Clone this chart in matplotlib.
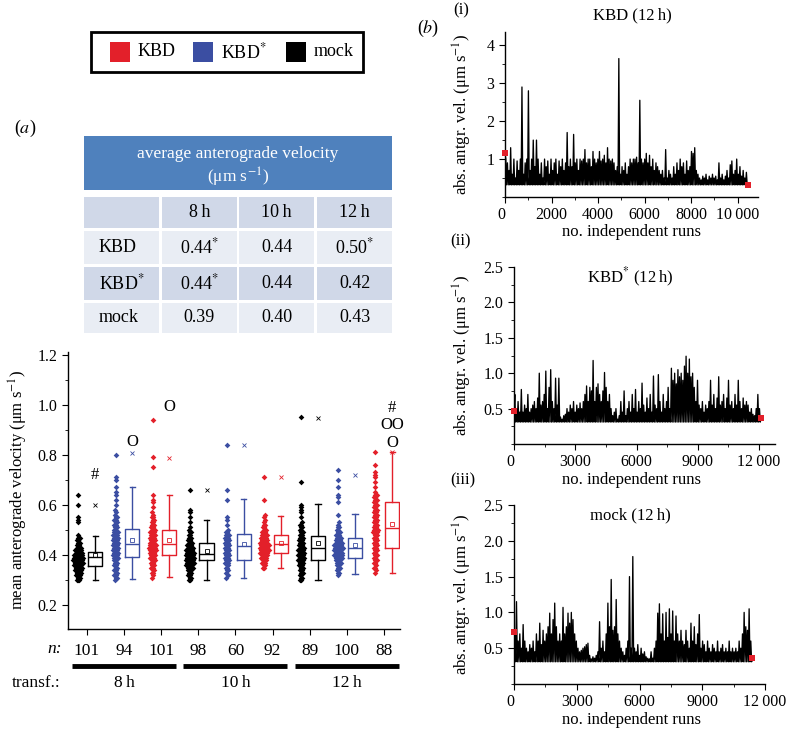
import numpy as np
import matplotlib.pyplot as plt
from matplotlib.patches import Rectangle
from matplotlib.ticker import MultipleLocator, FixedLocator, FuncFormatter

plt.rcParams['font.family'] = ['Liberation Serif', 'DejaVu Serif']
plt.rcParams['mathtext.fontset'] = 'stix'
plt.rcParams['axes.linewidth'] = 1.0

RED = '#e3202a'
BLUE = '#3b4ea2'
BLACK = '#000000'

# ---------------- data: panel (a) ----------------
hours = ['8 h', '10 h', '12 h']
strains = ['KBD', 'KBD$^{*}$', 'mock']
table_vals = [['0.44$^{*}$', '0.44', '0.50$^{*}$'],
              ['0.44$^{*}$', '0.44', '0.42'],
              ['0.39', '0.40', '0.43']]

# box order inside each time point: mock, KBD*, KBD
box_colors = [BLACK, BLUE, RED] * 3
n_labels = [101, 94, 101, 98, 60, 92, 89, 100, 88]
box_q1 = [0.356, 0.392, 0.400, 0.380, 0.380, 0.410, 0.380, 0.390, 0.430]
box_med = [0.392, 0.444, 0.444, 0.404, 0.436, 0.444, 0.430, 0.430, 0.507]
box_q3 = [0.412, 0.503, 0.500, 0.448, 0.483, 0.480, 0.476, 0.468, 0.610]
whisk_lo = [0.300, 0.305, 0.313, 0.300, 0.310, 0.350, 0.300, 0.324, 0.330]
whisk_hi = [0.475, 0.670, 0.638, 0.540, 0.623, 0.556, 0.603, 0.563, 0.810]
box_mean = [0.400, 0.460, 0.460, 0.415, 0.444, 0.450, 0.447, 0.440, 0.523]
pct99 = [0.600, 0.806, 0.786, 0.660, 0.840, 0.710, 0.948, 0.720, 0.810]

# scatter: histogram in 0.01 bins starting at scatter_lo, plus single high points
scatter_lo = [0.30, 0.30, 0.31, 0.30, 0.31, 0.35, 0.30, 0.32, 0.33]
scatter_counts = [
    [3, 3, 4, 5, 6, 6, 7, 8, 9, 9, 8, 6, 6, 5, 3, 3, 2, 2, 1],
    [1, 2, 2, 2, 2, 2, 3, 3, 3, 4, 4, 4, 5, 5, 5, 4, 5, 5, 4, 4, 3, 3, 2, 2, 2, 2, 1, 1, 1],
    [1, 1, 2, 2, 3, 3, 3, 4, 5, 5, 5, 6, 6, 6, 5, 5, 5, 5, 4, 4, 3, 3, 2, 2, 2, 1, 1],
    [2, 2, 3, 3, 4, 5, 6, 7, 7, 7, 7, 7, 6, 6, 5, 4, 3, 3, 2, 2, 1, 1],
    [1, 1, 1, 2, 2, 2, 3, 3, 3, 3, 3, 3, 4, 4, 4, 4, 4, 4, 2, 1],
    [2, 2, 3, 4, 5, 6, 7, 8, 7, 8, 7, 6, 5, 5, 4, 3, 2, 2, 1, 1, 1, 1],
    [2, 2, 2, 3, 3, 3, 4, 4, 5, 5, 5, 5, 5, 5, 4, 4, 4, 4, 3, 3, 2, 2, 2, 1],
    [1, 2, 2, 3, 3, 4, 5, 7, 8, 7, 7, 8, 7, 6, 5, 5, 4, 3, 2, 2, 1, 1],
    [1, 1, 2, 1, 2, 2, 2, 2, 2, 3, 3, 3, 3, 3, 3, 3, 4, 4, 3, 3, 3, 3, 3, 3, 3, 2, 2, 3, 2, 2, 2, 2, 1],
]
scatter_extra = [
    [0.53, 0.54, 0.55, 0.60, 0.64],
    [0.60, 0.62, 0.64, 0.65, 0.67, 0.70, 0.71, 0.80],
    [0.59, 0.61, 0.62, 0.64, 0.75, 0.79, 0.94],
    [0.53, 0.55, 0.57, 0.58, 0.66],
    [0.52, 0.54, 0.55, 0.62, 0.66, 0.84],
    [0.62, 0.71],
    [0.55, 0.57, 0.58, 0.59, 0.60, 0.69, 0.95],
    [0.56, 0.61, 0.63, 0.64, 0.67, 0.70, 0.74],
    [0.67, 0.69, 0.71, 0.72, 0.73, 0.76, 0.81],
]
sig_marks = [(1, 0.72, '#'), (2, 0.85, 'O'), (3, 0.99, 'O'),
             (9, 0.985, '#'), (9, 0.917, 'OO'), (9, 0.845, 'O')]

# ---------------- data: panel (b) ----------------
kbd_peaks = [
    1.0, 0.9, 0.7, 1.3, 0.6, 1.0, 0.5, 0.95, 0.7, 1.0, 2.9, 0.6, 0.9, 1.0, 2.8, 0.7, 1.0, 1.5, 0.8, 1.5,
    1.0, 0.6, 0.9, 0.5, 1.0, 0.8, 0.95, 0.6, 1.0, 0.7, 0.9, 1.0, 0.6, 0.95, 0.8, 1.0, 0.7, 0.9, 1.7, 0.8,
    1.0, 0.8, 1.65, 0.9, 1.0, 0.7, 1.0, 0.95, 1.0, 1.25, 0.9, 1.0, 1.0, 0.8, 1.2, 1.0, 0.9, 1.0, 1.2, 0.95,
    1.0, 1.1, 0.9, 1.3, 1.0, 0.95, 1.0, 0.9, 0.7, 0.8, 3.65, 0.6, 0.8, 0.7, 0.9, 0.6, 0.8, 1.0, 0.9, 1.0,
    1.0, 1.05, 0.9, 2.55, 1.0, 0.9, 1.0, 1.15, 0.9, 1.1, 0.8, 1.0, 0.7, 0.9, 0.8, 0.7, 0.6, 0.7, 0.5, 1.25,
    0.5, 0.7, 0.6, 0.5, 0.8, 0.6, 0.9, 0.7, 1.0, 0.8, 0.9, 0.6, 0.95, 0.7, 0.8, 1.2, 1.15, 1.3, 0.7, 0.6,
    0.5, 0.45, 0.55, 0.5, 0.6, 0.45, 0.55, 0.5, 0.6, 0.5, 0.55, 0.45, 0.9, 0.5, 0.6, 0.45, 0.55, 0.7, 0.5, 0.85,
    0.95, 0.6, 0.7, 1.0, 0.6, 0.8, 0.55, 0.7, 0.5, 0.65,
]
kbds_peaks = [
    0.7, 0.5, 0.6, 0.45,
    0.77, 0.45, 0.55, 0.5, 0.7, 0.45, 0.5, 0.55, 0.6, 0.5, 0.65, 1.0, 0.55, 0.6, 0.7, 1.03, 0.5, 0.8, 1.05, 0.6,
    0.5, 0.93, 0.55, 0.93,
    0.38, 0.35, 0.4, 0.42,
    0.5, 0.45, 0.55, 0.5, 0.6, 0.45, 0.55, 0.5, 0.58, 0.5, 0.6,
    0.7, 0.82, 0.6, 0.8, 0.75, 1.18, 0.6, 0.8, 0.85, 0.7, 0.6, 0.75, 1.01, 0.8, 0.6, 0.7,
    0.5, 0.4, 0.45, 0.5, 0.35, 0.4,
    0.6, 0.45, 0.75, 0.4, 0.5, 0.6, 0.45, 0.7, 0.5, 0.77, 0.45, 0.6, 0.5, 0.86, 0.55, 0.45, 0.65, 0.5, 0.7,
    0.45, 0.96, 0.55, 0.5, 0.98, 0.6, 0.45, 0.7, 0.5, 0.6, 0.8, 0.5,
    1.07, 0.9, 1.0, 0.85, 1.05, 0.95, 1.0, 0.9, 1.1, 1.24, 1.0, 1.2, 0.95, 1.0, 0.8,
    0.6, 0.9, 0.55, 0.5, 0.6, 0.45, 0.55, 0.5,
    0.6, 0.9, 0.55, 0.7, 0.5, 0.65, 0.95, 0.55, 0.6, 0.7, 0.5, 0.65, 0.9, 0.55, 0.6, 0.5, 0.7, 0.55, 0.9, 0.6,
    0.5, 0.65, 0.55, 0.6,
    0.55, 0.45, 0.5, 0.42, 0.4,
    0.5, 0.7, 0.5,
]
mock_peaks = [
    0.72, 1.15, 0.6, 0.7, 0.5, 0.83, 0.6, 0.5,
    0.45, 0.55, 0.5, 0.6, 0.45, 0.7,
    0.6, 0.85, 0.55, 0.75, 0.6, 0.7,
    0.8, 0.99, 0.7, 0.9, 1.13, 0.8, 0.6,
    0.7, 0.6, 1.07, 0.7, 0.8,
    0.99, 0.85, 1.0, 0.9, 0.7, 0.6, 0.5,
    0.45, 0.47, 0.5, 0.52, 0.55, 0.57,
    0.4, 0.35, 0.38, 0.36, 0.4, 0.45,
    0.87, 0.5, 0.6, 0.45, 0.7,
    1.13, 0.8, 1.46, 0.75, 0.8, 1.18,
    0.7, 0.6, 0.5, 0.45, 0.4,
    0.5, 0.6, 1.5, 0.5, 1.78,
    0.5, 0.45, 0.55, 0.4, 0.5, 0.42, 0.45,
    0.38, 0.36, 0.35, 0.45, 0.36, 0.5,
    0.6, 0.99, 1.12, 0.7, 0.98, 0.6, 1.0, 0.65,
    1.05, 0.7, 1.02, 0.6, 0.95, 0.7, 0.6, 0.75,
    0.6, 0.55, 0.75, 0.6, 0.5, 0.85, 0.6, 0.8,
    0.55, 0.7, 0.97, 0.5, 0.6, 0.55, 0.45, 0.6,
    0.5, 0.45, 0.55, 0.5, 0.45, 0.6, 0.45, 0.5,
    0.55, 0.45, 0.5, 0.45, 0.6, 0.45, 0.5, 0.45,
    0.5, 0.45, 0.6, 0.5, 0.7, 1.0, 0.8, 0.75, 1.05, 0.6,
]
run_floor = [0.32, 0.31, 0.31]
run_start = [1.15, 0.47, 0.72]
run_end_val = [0.32, 0.37, 0.37]
run_count = [10450, 12100, 11400]
run_titles = ['KBD (12\u2009h)', 'KBD$^{*}$ (12\u2009h)', 'mock (12\u2009h)']

# ---------------- figure ----------------
W, H = 789, 733
fig = plt.figure(figsize=(W / 100, H / 100), dpi=100)


def P(x, y):
    return x / W, 1 - y / H


def rect_px(x0, y0, x1, y1):
    return [x0 / W, 1 - y1 / H, (x1 - x0) / W, (y1 - y0) / H]


def ftext(x, y, s, **kw):
    kw.setdefault('ha', 'center')
    kw.setdefault('va', 'center')
    fig.text(*P(x, y), s, **kw)


def fbox(x0, y0, x1, y1, **kw):
    fig.add_artist(Rectangle(P(x0, y1), (x1 - x0) / W, (y1 - y0) / H,
                             transform=fig.transFigure, **kw))


# legend box
fbox(91, 32, 363, 72, facecolor='white', edgecolor='black', lw=2)
for (x0, lab, col) in [(110, 'KBD', RED), (193, 'KBD$^{*}$', BLUE), (286, 'mock', BLACK)]:
    fbox(x0, 42, x0 + 20, 62, facecolor=col, edgecolor='none')
    ftext(x0 + 28, 52, lab, ha='left', fontsize=13)

ftext(25, 128, r'($\mathit{a}$)', fontsize=13)
ftext(428, 28, r'($\mathit{b}$)', fontsize=13)

# table
fbox(84, 136, 392, 190, facecolor='#4f81bd', edgecolor='none')
ftext(238, 154, 'average anterograde velocity', color='white', fontsize=12.5)
ftext(238, 177, '(\u03bcm s$^{-1}$)', color='white', fontsize=12.5)
col_x = [(84, 159), (162, 237), (239, 314), (317, 392)]
row_y = [(197, 228), (231, 264), (267, 300), (303, 333)]
row_col = ['#d0d8e8', '#e9edf4', '#d0d8e8', '#e9edf4']
for r, (y0, y1) in enumerate(row_y):
    for c, (x0, x1) in enumerate(col_x):
        fbox(x0, y0, x1, y1, facecolor=row_col[r], edgecolor='none')
        yc = (y0 + y1) / 2
        if r == 0 and c > 0:
            ftext((x0 + x1) / 2, yc, hours[c - 1].replace(' ', '\u2009'), fontsize=13)
        elif r > 0 and c == 0:
            ftext(x0 + 15, yc, strains[r - 1], ha='left', fontsize=13)
        elif r > 0:
            ftext((x0 + x1) / 2, yc, table_vals[r - 1][c - 1], fontsize=13)

# box plot axes
ax = fig.add_axes(rect_px(68, 352, 400, 629))
pos = np.arange(1, 10)
for i in range(9):
    col = box_colors[i]
    # scatter (beeswarm-like deterministic spread)
    xs, ys = [], []
    for k, c in enumerate(scatter_counts[i]):
        v = scatter_lo[i] + 0.01 * k
        shift = 0.015 if k % 2 else -0.015
        for j in range(c):
            xs.append(pos[i] - 0.23 + shift + (j - (c - 1) / 2) * 0.03)
            ys.append(v)
    for v in scatter_extra[i]:
        xs.append(pos[i] - 0.23)
        ys.append(v)
    ax.plot(xs, ys, 'D', ms=2.9, color=col, mec=col, mew=0, ls='none')
    st = dict(med=box_med[i], q1=box_q1[i], q3=box_q3[i], whislo=whisk_lo[i],
              whishi=whisk_hi[i], mean=box_mean[i], fliers=[])
    ax.bxp([st], positions=[pos[i] + 0.22], widths=0.38, showmeans=True,
           showfliers=False, capwidths=0.14,
           boxprops=dict(color=col, lw=1), medianprops=dict(color=col, lw=1),
           whiskerprops=dict(color=col, lw=1), capprops=dict(color=col, lw=1),
           meanprops=dict(marker='s', mfc='none', mec=col, ms=3, mew=0.6))
    ax.plot(pos[i] + 0.22, pct99[i], 'x', ms=3.2, color=col, mew=0.6)

for (g, v, s) in sig_marks:
    ax.text(g + 0.22, v, s, ha='center', va='center', fontsize=12)

ax.set_xlim(0.49, 9.43)
ax.set_ylim(0.105, 1.21)
ax.spines['top'].set_visible(False)
ax.spines['right'].set_visible(False)
ax.yaxis.set_major_locator(FixedLocator([0.2, 0.4, 0.6, 0.8, 1.0, 1.2]))
ax.yaxis.set_major_formatter(FuncFormatter(lambda v, p: f'{v:.1f}'))
ax.yaxis.set_minor_locator(MultipleLocator(0.1))
ax.set_xticks(pos)
ax.set_xticklabels([str(n) for n in n_labels])
ax.tick_params(axis='y', which='major', direction='out', length=4, labelsize=11.5)
ax.tick_params(axis='y', which='minor', direction='out', length=2.5)
ax.tick_params(axis='x', direction='out', length=4, pad=6, labelsize=12.5)

xt = ax.get_xaxis_transform()
for g in range(3):
    ax.plot([g * 3 + 0.6, g * 3 + 3.4], [-0.134, -0.134], color='black', lw=3.5,
            transform=xt, clip_on=False, solid_capstyle='butt')
    ax.text(g * 3 + 2, -0.196, hours[g].replace(' ', '\u2009'), transform=xt,
            ha='center', va='center', fontsize=12.5)
ftext(55, 649, 'n:', fontsize=12.5, style='italic')
ftext(36, 683, 'transf.:', fontsize=12.5)
ftext(18, 490, 'mean anterograde velocity (\u03bcm s$^{-1}$)', rotation=90, fontsize=12)

# run panels
panel_px = [(505, 32, 758, 197), (514, 267, 775, 444), (514, 505, 765, 684)]
panel_xlim = [10880, 12780, 12000]
panel_ylim = [4.35, 2.5, 2.5]
series = [kbd_peaks, kbds_peaks, mock_peaks]


def fmt_run(v, p):
    v = int(round(v))
    if v >= 10000:
        return f'{v // 1000}\u2009{v % 1000:03d}'
    return str(v)


for k in range(3):
    x0, y0, x1, y1 = panel_px[k]
    a = fig.add_axes(rect_px(x0, y0, x1, y1))
    pk = series[k]
    y = np.empty(2 * len(pk) + 2)
    y[0] = run_start[k]
    y[-1] = run_end_val[k]
    y[1:-1:2] = pk
    y[2:-1:2] = run_floor[k]
    x = np.linspace(0, run_count[k], len(y))
    a.plot(x, y, color='black', lw=0.95)
    a.plot([0, run_count[k]], [run_start[k], run_end_val[k]], 's', color=RED,
           ms=4, mew=0, clip_on=False, zorder=5)
    a.set_xlim(0, panel_xlim[k])
    a.set_ylim(0, panel_ylim[k])
    a.spines['top'].set_visible(False)
    a.spines['right'].set_visible(False)
    if k == 0:
        a.xaxis.set_major_locator(FixedLocator([0, 2000, 4000, 6000, 8000, 10000]))
        a.xaxis.set_minor_locator(MultipleLocator(1000))
        a.yaxis.set_major_locator(FixedLocator([1, 2, 3, 4]))
        a.yaxis.set_minor_locator(MultipleLocator(0.5))
    else:
        a.xaxis.set_major_locator(FixedLocator([0, 3000, 6000, 9000, 12000]))
        a.xaxis.set_minor_locator(MultipleLocator(1500))
        a.yaxis.set_major_locator(FixedLocator([0.5, 1.0, 1.5, 2.0, 2.5]))
        a.yaxis.set_major_formatter(FuncFormatter(lambda v, p: f'{v:.1f}'))
        a.yaxis.set_minor_locator(MultipleLocator(0.25))
    a.xaxis.set_major_formatter(FuncFormatter(fmt_run))
    a.tick_params(which='major', direction='out', length=4, labelsize=11.5)
    a.tick_params(which='minor', direction='out', length=2)
    a.get_xticklabels()[0].set_ha('right')
    if k == 0:
        ftext(632, 15, run_titles[k], fontsize=12)
        ftext(632, 232, 'no. independent runs', fontsize=12)
    else:
        ftext(630, y0 + 10, run_titles[k], fontsize=12)
        ftext(632, y1 + 36, 'no. independent runs', fontsize=12)
    ftext(462, (y0 + y1) / 2, 'abs. antgr. vel. (\u03bcm s$^{-1}$)', rotation=90, fontsize=12)

ftext(461, 10, '(i)', fontsize=12)
ftext(461, 241, '(ii)', fontsize=12)
ftext(463, 480, '(iii)', fontsize=12)

fig.savefig('out.png', dpi=100)
